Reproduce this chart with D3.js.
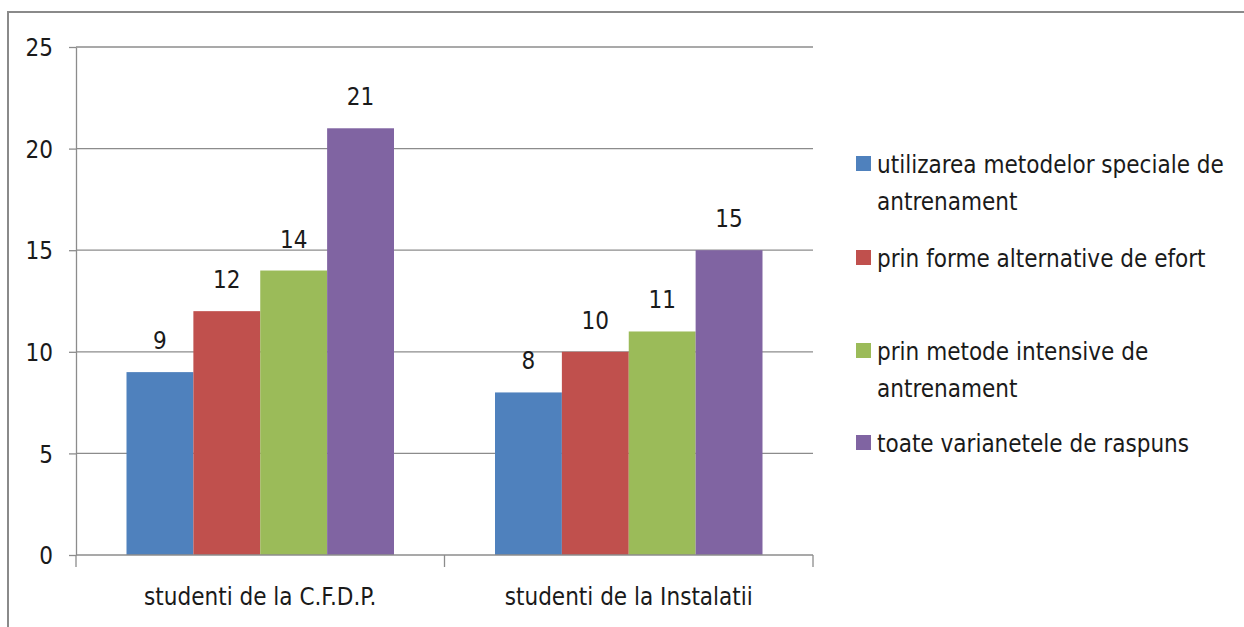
<!DOCTYPE html>
<html>
<head>
<meta charset="utf-8">
<script src="https://cdn.jsdelivr.net/npm/d3@7"></script>
<style>
  html, body { margin: 0; padding: 0; background: #fff; }
  svg text { font-family: "Liberation Sans Narrow", "DejaVu Sans Condensed", "Open Sans", sans-serif; fill: #1a1a1a; }
</style>
</head>
<body>
<svg id="chart" width="1244" height="627"></svg>
<script>
// Categories (x-axis groups)
const categories = ["studenti de la C.F.D.P.", "studenti de la Instalatii"];

// Series names (legend) and their values per category
const seriesNames = [
  "utilizarea metodelor speciale de antrenament",
  "prin forme alternative de efort",
  "prin metode intensive de antrenament",
  "toate varianetele de raspuns"
];
const legendLines = [
  ["utilizarea metodelor speciale de", "antrenament"],
  ["prin forme alternative de efort"],
  ["prin metode intensive de", "antrenament"],
  ["toate varianetele de raspuns"]
];
const seriesValues = [
  [9, 8],
  [12, 10],
  [14, 11],
  [21, 15]
];
const seriesColors = ["#4F81BD", "#C0504D", "#9BBB59", "#8064A2"];
const yTicks = [0, 5, 10, 15, 20, 25];

const FS = 24;
const svg = d3.select("#chart");

// outer frame
svg.append("rect")
  .attr("x", 8).attr("y", 12)
  .attr("width", 1300).attr("height", 700)
  .attr("fill", "none").attr("stroke", "#8a8a8a").attr("stroke-width", 2);

const plot = { left: 76, right: 813, top: 47, bottom: 555 };

const y = d3.scaleLinear().domain([0, 25]).range([plot.bottom, plot.top]);
const x0 = d3.scaleBand().domain(categories).range([plot.left, plot.right]).padding(0);
const groupPad = 50.5;
const x1 = d3.scaleBand().domain(d3.range(seriesNames.length))
  .range([groupPad, x0.bandwidth() - groupPad]).padding(0);

// gridlines
svg.append("g").selectAll("line").data(yTicks.filter(d => d > 0)).join("line")
  .attr("x1", plot.left).attr("x2", plot.right)
  .attr("y1", d => y(d)).attr("y2", d => y(d))
  .attr("stroke", "#8c8c8c").attr("stroke-width", 1.3);

// y axis
const yAxis = svg.append("g").attr("transform", `translate(${plot.left},0)`)
  .call(d3.axisLeft(y).tickValues(yTicks).tickSize(7).tickPadding(16).tickSizeOuter(0));
yAxis.select(".domain").attr("stroke", "#8c8c8c").attr("stroke-width", 1.3);
yAxis.selectAll(".tick line").attr("stroke", "#8c8c8c").attr("stroke-width", 1.3);
yAxis.selectAll(".tick text").attr("font-size", FS).attr("font-family", null).attr("dy", "0.36em");

// bars
const groups = svg.append("g").selectAll("g").data(categories).join("g")
  .attr("transform", d => `translate(${x0(d)},0)`);

groups.selectAll("rect")
  .data((c, ci) => seriesValues.map((vals, si) => ({ si, v: vals[ci] })))
  .join("rect")
  .attr("x", d => x1(d.si))
  .attr("width", x1.bandwidth())
  .attr("y", d => y(d.v))
  .attr("height", d => y(0) - y(d.v))
  .attr("fill", d => seriesColors[d.si]);

groups.selectAll("text.val")
  .data((c, ci) => seriesValues.map((vals, si) => ({ si, v: vals[ci] })))
  .join("text")
  .attr("class", "val")
  .attr("x", d => x1(d.si) + x1.bandwidth() / 2)
  .attr("y", d => y(d.v) - 23)
  .attr("text-anchor", "middle")
  .attr("font-size", FS)
  .text(d => d.v);

// x axis
const xAxis = svg.append("g").attr("transform", `translate(0,${plot.bottom})`);
xAxis.append("line").attr("x1", plot.left).attr("x2", plot.right)
  .attr("stroke", "#8c8c8c").attr("stroke-width", 1.3);
const catEdges = [plot.left, ...categories.map(c => x0(c) + x0.bandwidth())];
xAxis.selectAll("line.tk").data(catEdges).join("line").attr("class", "tk")
  .attr("x1", d => d).attr("x2", d => d).attr("y1", 0).attr("y2", 12)
  .attr("stroke", "#8c8c8c").attr("stroke-width", 1.3);
xAxis.selectAll("text").data(categories).join("text")
  .attr("x", d => x0(d) + x0.bandwidth() / 2)
  .attr("y", 50)
  .attr("text-anchor", "middle")
  .attr("font-size", FS)
  .text(d => d);

// legend
const legendTops = [173, 267, 360, 452];
const legend = svg.append("g");
legendLines.forEach((lines, i) => {
  legend.append("rect")
    .attr("x", 856).attr("y", legendTops[i] - 17)
    .attr("width", 15).attr("height", 15)
    .attr("fill", seriesColors[i]);
  const t = legend.append("text").attr("font-size", FS);
  lines.forEach((ln, j) => {
    t.append("tspan").attr("x", 877).attr("y", legendTops[i] + j * 37).text(ln);
  });
});
</script>
</body>
</html>
